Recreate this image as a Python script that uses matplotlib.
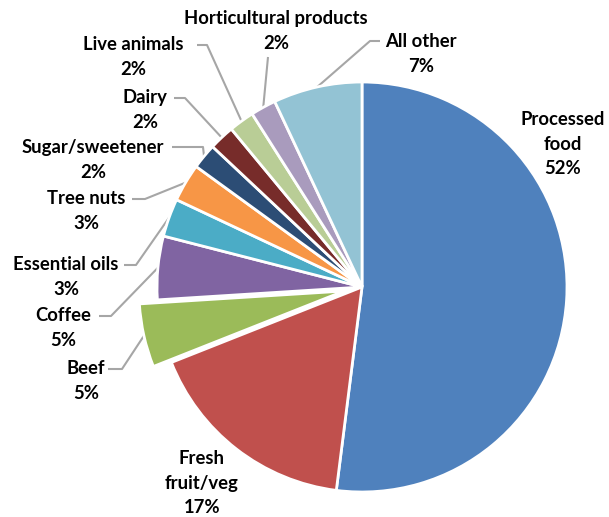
import numpy as np
import matplotlib.pyplot as plt

categories = ['Processed\nfood', 'Fresh\nfruit/veg', 'Beef', 'Coffee', 'Essential oils',
              'Tree nuts', 'Sugar/sweetener', 'Dairy', 'Live animals',
              'Horticultural products', 'All other']
shares = [52, 17, 5, 5, 3, 3, 2, 2, 2, 2, 7]
colors = ['#4F81BD', '#C0504D', '#9BBB59', '#8064A2', '#4BACC6', '#F79646',
          '#2C4D75', '#772C2A', '#B9CD96', '#A99BBD', '#93C3D4']
explode = [0, 0, 0.09, 0, 0, 0, 0, 0, 0, 0, 0]

W, H = 609, 517
CX, CY, R = 362, 287, 205


def px(x, y):
    return (x - CX) / R, (CY - y) / R


plt.rcParams['font.family'] = ['Lato', 'DejaVu Sans']

fig = plt.figure(figsize=(W / 100, H / 100), dpi=100)
ax = fig.add_axes([0, 0, 1, 1])

wedges, _ = ax.pie(shares, colors=colors, explode=explode, startangle=90,
                   counterclock=False, radius=1,
                   wedgeprops=dict(edgecolor='white', linewidth=2))
ax.set_aspect('auto')
ax.set_xlim(px(0, 0)[0], px(W, 0)[0])
ax.set_ylim(px(0, H)[1], px(0, 0)[1])
ax.axis('off')

# label layout: text centre, stub start, stub end (pixels); None = label inside
layout = [
    ((563, 144), None, None),
    ((202, 483), None, None),
    ((86, 381), (108, 369), (122, 369)),
    ((63, 328), (99, 316), (111, 316)),
    ((66, 277), (124, 265), (136, 265)),
    ((86, 211), (132, 199), (145, 199)),
    ((93, 160), (172, 147), (203, 147)),
    ((145, 110), (174, 98), (185, 98)),
    ((133, 57), (197, 45), (207, 45)),
    ((276, 31), (268, 57), (268, 57)),
    ((421, 54), (380, 41), (370, 41)),
]

pct = [f'{v}%' for v in shares]
for w, name, p, (tpos, s0, s1) in zip(wedges, categories, pct, layout):
    ax.text(*px(*tpos), f'{name}\n{p}', ha='center', va='center',
            fontsize=13.3, fontweight='bold', linespacing=1.55, color='#000000')
    if s0 is None:
        continue
    mid = np.deg2rad((w.theta1 + w.theta2) / 2)
    ex = w.center[0] + w.r * np.cos(mid)
    ey = w.center[1] + w.r * np.sin(mid)
    x0, y0 = px(*s0)
    x1, y1 = px(*s1)
    ax.plot([x0, x1, ex], [y0, y1, ey], color='#A6A6A6', lw=1.5,
            solid_capstyle='butt', zorder=0)

fig.savefig('out.png', dpi=100)
